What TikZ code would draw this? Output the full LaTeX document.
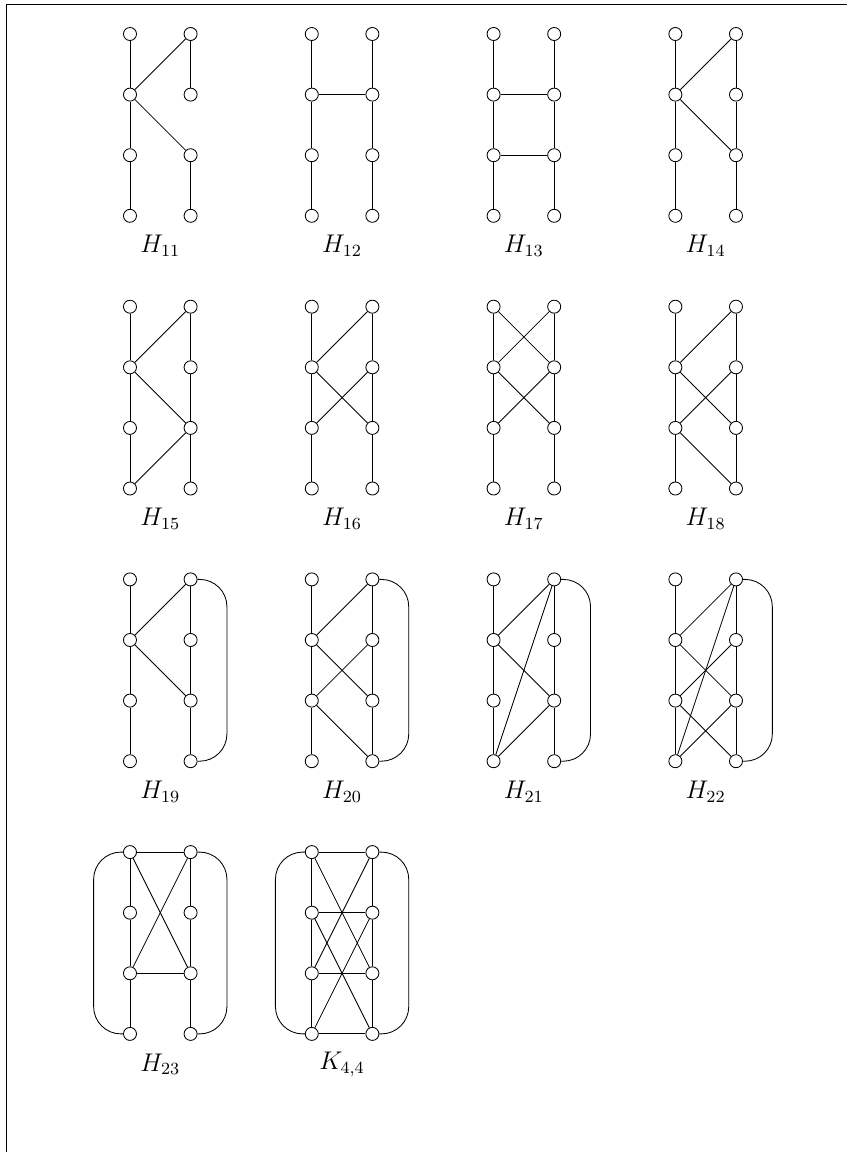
\documentclass[tikz,border=0pt]{standalone}
\usetikzlibrary{positioning,calc}

% eight vertices of one ladder and its name below
\newcommand{\ladder}[4]{
  \begin{scope}[shift={(3*#2,-4.5*#3)}]
    \foreach \i in {1,...,4} {
      \node[vtx] (#1a\i) at (0,1-\i) {};
      \node[vtx] (#1b\i) at (1,1-\i) {};
    }
    \node[glabel] (#1lab) at (0.5,-3.5) {$#4$};
  \end{scope}
}

\begin{document}
\begin{tikzpicture}[
  vtx/.style={circle, draw, fill=white, minimum size=0.215cm, inner sep=0pt},
  glabel/.style={font=\large},
  wrap/.style={rounded corners=0.45cm}
]
\useasboundingbox (-2.145,-18.449) rectangle (11.832,0.561);
\draw (-2.046,-18.449) -- (-2.046,0.495) -- (11.832,0.495);

\ladder{g11}{0}{0}{H_{11}}
\ladder{g12}{1}{0}{H_{12}}
\ladder{g13}{2}{0}{H_{13}}
\ladder{g14}{3}{0}{H_{14}}
\ladder{g15}{0}{1}{H_{15}}
\ladder{g16}{1}{1}{H_{16}}
\ladder{g17}{2}{1}{H_{17}}
\ladder{g18}{3}{1}{H_{18}}
\ladder{g19}{0}{2}{H_{19}}
\ladder{g20}{1}{2}{H_{20}}
\ladder{g21}{2}{2}{H_{21}}
\ladder{g22}{3}{2}{H_{22}}
\ladder{g23}{0}{3}{H_{23}}
\ladder{k44}{1}{3}{K_{4,4}}

% the two columns of every graph
\foreach \g in {g12,g13,g14,g15,g16,g17,g18,g19,g20,g21,g22,g23,k44} {
  \draw (\g a1) -- (\g a2) -- (\g a3) -- (\g a4);
  \draw (\g b1) -- (\g b2) -- (\g b3) -- (\g b4);
}
\draw (g11a1) -- (g11a2) -- (g11a3) -- (g11a4);
\draw (g11b1) -- (g11b2);
\draw (g11b3) -- (g11b4);

% rungs and diagonals
\foreach \u/\v in {a2/b1,a2/b3} \draw (g11\u) -- (g11\v);
\foreach \u/\v in {a2/b2} \draw (g12\u) -- (g12\v);
\foreach \u/\v in {a2/b2,a3/b3} \draw (g13\u) -- (g13\v);
\foreach \u/\v in {a2/b1,a2/b3} \draw (g14\u) -- (g14\v);
\foreach \u/\v in {a2/b1,a2/b3,a4/b3} \draw (g15\u) -- (g15\v);
\foreach \u/\v in {a2/b1,a2/b3,a3/b2} \draw (g16\u) -- (g16\v);
\foreach \u/\v in {a1/b2,a2/b1,a2/b3,a3/b2} \draw (g17\u) -- (g17\v);
\foreach \u/\v in {a2/b1,a2/b3,a3/b2,a3/b4} \draw (g18\u) -- (g18\v);
\foreach \u/\v in {a2/b1,a2/b3} \draw (g19\u) -- (g19\v);
\foreach \u/\v in {a2/b1,a2/b3,a3/b2,a3/b4} \draw (g20\u) -- (g20\v);
\foreach \u/\v in {a2/b1,a2/b3,a4/b1,a4/b3} \draw (g21\u) -- (g21\v);
\foreach \u/\v in {a2/b1,a2/b3,a3/b2,a3/b4,a4/b1,a4/b3} \draw (g22\u) -- (g22\v);
\foreach \u/\v in {a1/b1,a3/b3,a1/b3,a3/b1} \draw (g23\u) -- (g23\v);
\foreach \u/\v in {a1/b1,a2/b2,a3/b3,a4/b4,a1/b3,a3/b1,a2/b4,a4/b2} \draw (k44\u) -- (k44\v);

% outer loops
\foreach \g in {g19,g20,g21,g22,g23,k44}
  \draw[wrap] (\g b1) -- ++(0.6,0) |- (\g b4);
\foreach \g in {g23,k44}
  \draw[wrap] (\g a1) -- ++(-0.6,0) |- (\g a4);
\end{tikzpicture}
\end{document}
